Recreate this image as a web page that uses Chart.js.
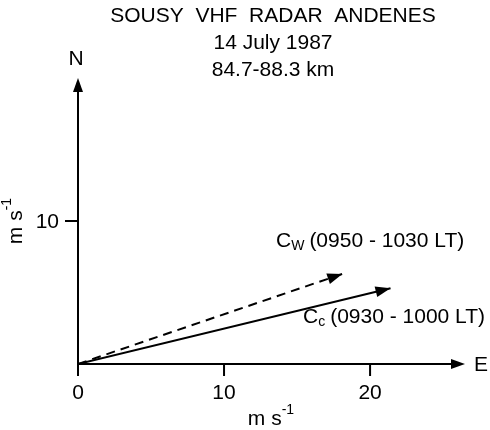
<!DOCTYPE html>
<html>
<head>
<meta charset="utf-8">
<script src="https://cdn.jsdelivr.net/npm/chart.js@4.4.0/dist/chart.umd.min.js"></script>
<style>
  html, body { margin: 0; padding: 0; background: #fff; }
  #wrap { width: 490px; height: 430px; position: relative; }
</style>
</head>
<body>
<div id="wrap"><canvas id="windChart"></canvas></div>
<script>
// wind vectors, m/s (east, north)
const vectorNames = ['Cw', 'Cc'];
const vectorEast = [18.1, 21.4];
const vectorNorth = [6.3, 5.3];
const vectorLabels = ['(0950 - 1030 LT)', '(0930 - 1000 LT)'];
const vectorSubs = ['W', 'c'];

const xTicks = [0, 10, 20];
const yTicks = [10];
const titleLines = ['SOUSY  VHF  RADAR  ANDENES', '14 July 1987', '84.7-88.3 km'];

const FONT = '"Liberation Sans", Arial, Helvetica, sans-serif';

function drawArrowHead(ctx, x0, y0, x1, y1, len, half) {
    var ang = Math.atan2(y1 - y0, x1 - x0);
    ctx.save();
    ctx.translate(x1, y1);
    ctx.rotate(ang);
    ctx.beginPath();
    ctx.moveTo(0, 0);
    ctx.lineTo(-len, -half);
    ctx.lineTo(-len, half);
    ctx.closePath();
    ctx.fillStyle = '#000';
    ctx.fill();
    ctx.restore();
}

const arrowPlugin = {
    id: 'arrowPlugin',
    afterDatasetsDraw: function(chart) {
        var ctx = chart.ctx;
        var xs = chart.scales.x, ys = chart.scales.y;
        var ox = xs.getPixelForValue(0), oy = ys.getPixelForValue(0);
        var xEnd = xs.getPixelForValue(xs.max), yEnd = ys.getPixelForValue(ys.max);

        ctx.save();
        ctx.strokeStyle = '#000';
        ctx.lineWidth = 2;
        // axes
        ctx.beginPath();
        ctx.moveTo(ox, oy + 12);
        ctx.lineTo(ox, yEnd + 10);
        ctx.moveTo(ox - 1, oy);
        ctx.lineTo(xEnd - 10, oy);
        ctx.stroke();
        drawArrowHead(ctx, ox, oy, ox, yEnd, 14, 5);
        drawArrowHead(ctx, ox, oy, xEnd, oy, 14, 5);

        // ticks
        ctx.beginPath();
        xTicks.forEach(function(v) {
            if (v === 0) return;
            var px = xs.getPixelForValue(v);
            ctx.moveTo(px, oy);
            ctx.lineTo(px, oy + 12);
        });
        yTicks.forEach(function(v) {
            var py = ys.getPixelForValue(v);
            ctx.moveTo(ox, py);
            ctx.lineTo(ox - 13, py);
        });
        ctx.stroke();

        ctx.fillStyle = '#000';
        ctx.font = '21px ' + FONT;
        ctx.textBaseline = 'middle';
        ctx.textAlign = 'center';
        xTicks.forEach(function(v) {
            ctx.fillText(String(v), xs.getPixelForValue(v), oy + 29);
        });
        ctx.textAlign = 'right';
        yTicks.forEach(function(v) {
            ctx.fillText(String(v), ox - 19, ys.getPixelForValue(v) + 1);
        });

        // direction letters
        ctx.textAlign = 'center';
        ctx.fillText('N', ox - 2, yEnd - 19);
        ctx.textAlign = 'left';
        ctx.fillText('E', xEnd + 9, oy + 1);

        // unit labels
        function unit(x, y) {
            ctx.textAlign = 'left';
            ctx.font = '21px ' + FONT;
            var w1 = ctx.measureText('m s').width;
            ctx.font = '14px ' + FONT;
            var w2 = ctx.measureText('-1').width;
            var sx = x - (w1 + w2) / 2;
            ctx.font = '21px ' + FONT;
            ctx.fillText('m s', sx, y);
            ctx.font = '14px ' + FONT;
            ctx.fillText('-1', sx + w1, y - 9);
        }
        unit(271, oy + 55);
        ctx.save();
        ctx.translate(16, 221);
        ctx.rotate(-Math.PI / 2);
        unit(0, 0);
        ctx.restore();

        // vector arrow heads and labels
        vectorEast.forEach(function(e, i) {
            var tx = xs.getPixelForValue(e), ty = ys.getPixelForValue(vectorNorth[i]);
            drawArrowHead(ctx, ox, oy, tx, ty, 15, 5.5);
        });
        var labelPos = [[276, 241], [303, 317]];
        vectorNames.forEach(function(n, i) {
            var lx = labelPos[i][0], ly = labelPos[i][1];
            ctx.textAlign = 'left';
            ctx.font = '21px ' + FONT;
            ctx.fillText('C', lx, ly);
            var w = ctx.measureText('C').width;
            ctx.font = '14px ' + FONT;
            ctx.fillText(vectorSubs[i], lx + w, ly + 5);
            var w2 = ctx.measureText(vectorSubs[i]).width;
            ctx.font = '21px ' + FONT;
            ctx.fillText(vectorLabels[i], lx + w + w2 + 5, ly);
        });

        // title
        ctx.textAlign = 'center';
        ctx.font = '21px ' + FONT;
        titleLines.forEach(function(t, i) {
            ctx.fillText(t, 273, 16 + i * 27);
        });
        ctx.restore();
    }
};

document.addEventListener('DOMContentLoaded', function() {
    var datasets = vectorNames.map(function(n, i) {
        return {
            label: n,
            data: [{ x: 0, y: 0 }, { x: vectorEast[i], y: vectorNorth[i] }],
            showLine: true,
            borderColor: '#000',
            borderWidth: 2,
            borderDash: i === 0 ? [9, 6] : [],
            pointRadius: 0,
            fill: false
        };
    });

    var ctx = document.getElementById('windChart').getContext('2d');
    new Chart(ctx, {
        type: 'scatter',
        data: { datasets: datasets },
        options: {
            responsive: true,
            maintainAspectRatio: false,
            animation: false,
            layout: { padding: { left: 78, right: 25, top: 78, bottom: 66 } },
            scales: {
                x: { type: 'linear', min: 0, max: 26.5, display: false },
                y: { type: 'linear', min: 0, max: 20, display: false }
            },
            plugins: {
                legend: { display: false },
                tooltip: { enabled: false }
            }
        },
        plugins: [arrowPlugin]
    });
});
</script>
</body>
</html>
